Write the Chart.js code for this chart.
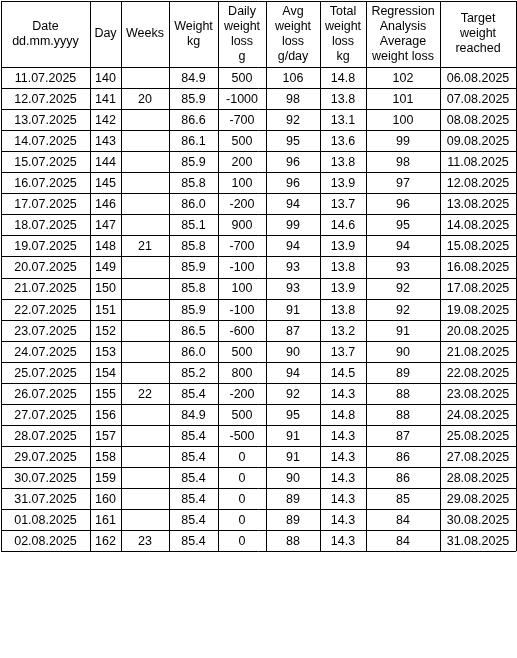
<!DOCTYPE html>
<html>
<head>
<meta charset="utf-8">
<script src="https://cdn.jsdelivr.net/npm/chart.js@4.4.1/dist/chart.umd.min.js"></script>
<style>
  html, body { margin: 0; padding: 0; background: #fff; }
</style>
</head>
<body>
<canvas id="table" width="517" height="658"></canvas>
<script>
// table data
const headers = [
  ['Date', 'dd.mm.yyyy'], ['Day'], ['Weeks'], ['Weight', 'kg'],
  ['Daily', 'weight', 'loss', 'g'], ['Avg', 'weight', 'loss', 'g/day'],
  ['Total', 'weight', 'loss', 'kg'], ['Regression', 'Analysis', 'Average', 'weight loss'],
  ['Target', 'weight', 'reached']
];
const dates = ['11.07.2025','12.07.2025','13.07.2025','14.07.2025','15.07.2025','16.07.2025','17.07.2025','18.07.2025','19.07.2025','20.07.2025','21.07.2025','22.07.2025','23.07.2025','24.07.2025','25.07.2025','26.07.2025','27.07.2025','28.07.2025','29.07.2025','30.07.2025','31.07.2025','01.08.2025','02.08.2025'];
const days = [140,141,142,143,144,145,146,147,148,149,150,151,152,153,154,155,156,157,158,159,160,161,162];
const weeks = ['','20','','','','','','','21','','','','','','','22','','','','','','','23'];
const weights = ['84.9','85.9','86.6','86.1','85.9','85.8','86.0','85.1','85.8','85.9','85.8','85.9','86.5','86.0','85.2','85.4','84.9','85.4','85.4','85.4','85.4','85.4','85.4'];
const dailyLoss = [500,-1000,-700,500,200,100,-200,900,-700,-100,100,-100,-600,500,800,-200,500,-500,0,0,0,0,0];
const avgLoss = [106,98,92,95,96,96,94,99,94,93,93,91,87,90,94,92,95,91,91,90,89,89,88];
const totalLoss = ['14.8','13.8','13.1','13.6','13.8','13.9','13.7','14.6','13.9','13.8','13.9','13.8','13.2','13.7','14.5','14.3','14.8','14.3','14.3','14.3','14.3','14.3','14.3'];
const regression = [102,101,100,99,98,97,96,95,94,93,92,92,91,90,89,88,88,87,86,86,85,84,84];
const targets = ['06.08.2025','07.08.2025','08.08.2025','09.08.2025','11.08.2025','12.08.2025','13.08.2025','14.08.2025','15.08.2025','16.08.2025','17.08.2025','19.08.2025','20.08.2025','21.08.2025','22.08.2025','23.08.2025','24.08.2025','25.08.2025','27.08.2025','28.08.2025','29.08.2025','30.08.2025','31.08.2025'];

const columns = [dates, days, weeks, weights, dailyLoss, avgLoss, totalLoss, regression, targets];

// layout (in pixel units of the linear scales)
const colEdges = [1, 90, 121, 169, 218, 266, 320, 366, 440, 516];
const headerTop = 1, headerBottom = 67, rowHeight = 21.05;

const tablePlugin = {
  id: 'tableDraw',
  afterDraw(chart) {
    const { ctx, scales: { x, y } } = chart;
    const nRows = dates.length;
    const bottom = headerBottom + nRows * rowHeight;
    ctx.save();
    ctx.strokeStyle = '#000';
    ctx.lineWidth = 1;
    ctx.beginPath();
    colEdges.forEach(e => {
      const px = Math.round(x.getPixelForValue(e)) + 0.5;
      ctx.moveTo(px, y.getPixelForValue(headerTop));
      ctx.lineTo(px, y.getPixelForValue(bottom));
    });
    const hLines = [headerTop, headerBottom];
    for (let r = 1; r <= nRows; r++) hLines.push(headerBottom + r * rowHeight);
    hLines.forEach(h => {
      const py = Math.round(y.getPixelForValue(h)) + 0.5;
      ctx.moveTo(x.getPixelForValue(colEdges[0]), py);
      ctx.lineTo(x.getPixelForValue(colEdges[colEdges.length - 1]), py);
    });
    ctx.stroke();

    ctx.fillStyle = '#000';
    ctx.font = '12.5px "Liberation Sans", Arial, sans-serif';
    ctx.textAlign = 'center';
    ctx.textBaseline = 'middle';
    const lh = 15;
    headers.forEach((lines, c) => {
      const cx = x.getPixelForValue((colEdges[c] + colEdges[c + 1]) / 2);
      const cy = y.getPixelForValue((headerTop + headerBottom) / 2);
      lines.forEach((t, i) => {
        ctx.fillText(t, cx, cy + (i - (lines.length - 1) / 2) * lh);
      });
    });
    columns.forEach((col, c) => {
      const cx = x.getPixelForValue((colEdges[c] + colEdges[c + 1]) / 2);
      col.forEach((v, r) => {
        const cy = y.getPixelForValue(headerBottom + (r + 0.5) * rowHeight);
        ctx.fillText(String(v), cx, cy + 1);
      });
    });
    ctx.restore();
  }
};

new Chart(document.getElementById('table'), {
  type: 'scatter',
  data: { datasets: [{ data: [], pointRadius: 0 }] },
  options: {
    responsive: false,
    animation: false,
    devicePixelRatio: 1,
    layout: { padding: 0 },
    plugins: { legend: { display: false }, tooltip: { enabled: false } },
    scales: {
      x: { type: 'linear', min: 0, max: 517, display: false },
      y: { type: 'linear', min: 0, max: 658, reverse: true, display: false }
    }
  },
  plugins: [tablePlugin]
});
</script>
</body>
</html>
